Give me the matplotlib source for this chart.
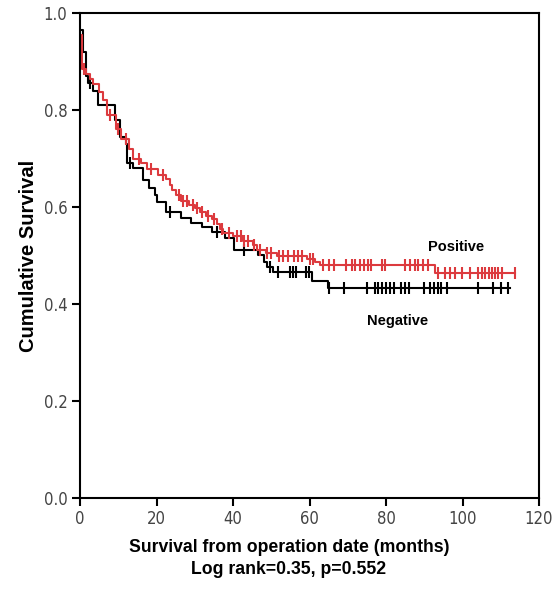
import matplotlib
matplotlib.use("Agg")
import matplotlib.pyplot as plt
import numpy as np

# Kaplan-Meier step data (time in months, survival after step)
neg_times = [0, 0.8, 1.5, 2.0, 3.5, 4.7, 9.1, 10.5, 12.0, 12.3, 13.8, 16.5, 18.0, 19.5,
             20.0, 22.5, 26.5, 29.0, 32.0, 34.5, 38.0, 40.3, 46.5, 48.0, 49.0, 50.5,
             60.7, 64.8, 112.5]
neg_surv = [0.965, 0.92, 0.87, 0.855, 0.84, 0.81, 0.78, 0.745, 0.73, 0.69, 0.68, 0.655,
            0.64, 0.625, 0.61, 0.589, 0.578, 0.568, 0.558, 0.548, 0.537, 0.512, 0.502,
            0.487, 0.477, 0.467, 0.448, 0.434, 0.434]
neg_censor = [2.6, 13, 23.5, 35.8, 43, 49.7, 51.8, 55, 55.7, 56.5, 59, 59.8, 65, 69, 75,
              77, 78, 79, 80, 81, 82, 84, 85, 86, 90, 91.5, 92.5, 93.5, 94.5, 96, 104,
              108, 110, 112]

pos_times = [0, 0.5, 1.5, 2.5, 3.5, 5.0, 6.0, 7.0, 9.3, 10.8, 12.8, 13.8, 16.0, 17.5,
             20.5, 22.5, 23.5, 24.0, 25.0, 26.5, 28.5, 30.0, 31.5, 33.0, 34.5, 35.8,
             36.6, 37.5, 40.0, 42.6, 45.2, 46.3, 48.5, 51.5, 59.3, 61.4, 62.7, 92.8, 113.7]
pos_surv = [0.955, 0.885, 0.874, 0.864, 0.853, 0.837, 0.82, 0.79, 0.76, 0.74, 0.72, 0.70,
            0.69, 0.678, 0.667, 0.657, 0.646, 0.636, 0.625, 0.612, 0.604, 0.597, 0.59,
            0.582, 0.575, 0.565, 0.554, 0.547, 0.54, 0.529, 0.521, 0.512, 0.505, 0.498,
            0.492, 0.487, 0.481, 0.464, 0.464]
pos_censor = [1, 7.8, 10, 12, 15.5, 18.5, 21.7, 26, 27, 28, 29.5, 30.5, 32, 33.5, 35, 37,
              39, 41, 42, 43, 44, 45.5, 47, 49, 50, 52, 53, 54.5, 56, 57, 58, 60, 61,
              63.5, 65, 66.4, 69.5, 71, 72, 73.2, 74.2, 75.3, 76, 79, 79.7, 85, 86.3,
              87.6, 88.4, 89.7, 91, 93.6, 95.4, 96.7, 98, 99.9, 102, 104, 105, 106, 107,
              107.7, 108.5, 109.3, 110.3, 113.7]

x_ticks = [0, 20, 40, 60, 80, 100, 120]
y_ticks = [0.0, 0.2, 0.4, 0.6, 0.8, 1.0]

RED = "#dc3a3e"


def surv_at(times, surv, t):
    i = np.searchsorted(times, t, side="right") - 1
    return np.asarray(surv)[i]


fig = plt.figure(figsize=(5.6, 5.9), dpi=100)
ax = fig.add_axes([80 / 560, 92 / 590, 459 / 560, 485 / 590])

for times, surv, cens, col in [(neg_times, neg_surv, neg_censor, "black"),
                               (pos_times, pos_surv, pos_censor, RED)]:
    ax.step(times, surv, where="post", color=col, lw=1.5)
    ax.plot(cens, surv_at(times, surv, cens), ls="none", marker="|",
            ms=8, mew=1.5, color=col)

ax.set_xlim(0, 120)
ax.set_ylim(0, 1.0)
ax.set_xticks(x_ticks)
ax.set_yticks(y_ticks)
ax.set_yticklabels([f"{v:.1f}" for v in y_ticks])
for lab in ax.get_xticklabels() + ax.get_yticklabels():
    lab.set_fontfamily("DejaVu Sans")
    lab.set_fontstretch("condensed")
    lab.set_fontweight("light")
    lab.set_fontsize(12)
    lab.set_color("#444444")
ax.tick_params(direction="out", length=6, width=1.5, pad=3)
for s in ax.spines.values():
    s.set_linewidth(1.5)

bold = dict(family=["Liberation Sans", "DejaVu Sans"], weight="bold")
fig.text(29 / 560, 1 - 256 / 590, "Cumulative Survival", rotation=90,
         ha="center", va="center", fontsize=14.5, **bold)
fig.text(289 / 560, 1 - 548 / 590, "Survival from operation date (months)",
         ha="center", va="center", fontsize=12.7, **bold)
fig.text(289 / 560, 1 - 570 / 590, "Log rank=0.35, p=0.552",
         ha="center", va="center", fontsize=12.7, **bold)

ax.text(91, 0.5165, "Positive", ha="left", va="center", fontsize=10.5, **bold)
ax.text(75, 0.364, "Negative", ha="left", va="center", fontsize=10.5, **bold)

fig.savefig("out.png", dpi=100)
